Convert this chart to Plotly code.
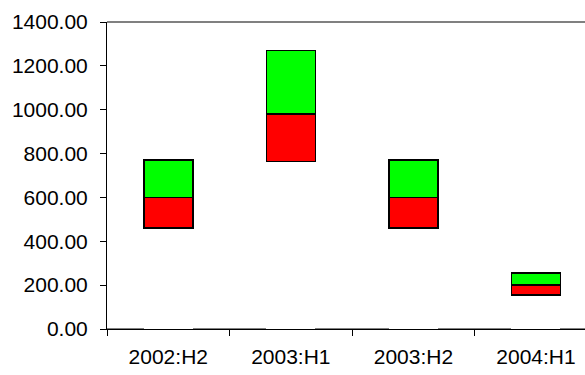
import plotly.graph_objects as go

# Half-year periods and the low / middle / high level of each range
periods = ["2002:H2", "2003:H1", "2003:H2", "2004:H1"]
low = [460, 763, 460, 155]
mid = [600, 980, 600, 200]
high = [772, 1270, 772, 255]

y_ticks = [0, 200, 400, 600, 800, 1000, 1200, 1400]

lower_part = [m - l for l, m in zip(low, mid)]
upper_part = [h - m for m, h in zip(mid, high)]

fig = go.Figure()

# invisible base (white) lifting each range box off the axis
fig.add_trace(go.Bar(
    x=periods, y=low,
    marker=dict(color="white", line=dict(width=0)),
    hoverinfo="skip",
))
# low -> middle segment
fig.add_trace(go.Bar(
    x=periods, y=lower_part,
    marker=dict(color="#ff0000", line=dict(color="black", width=1.6)),
))
# middle -> high segment
fig.add_trace(go.Bar(
    x=periods, y=upper_part,
    marker=dict(color="#00ff00", line=dict(color="black", width=1.6)),
))

font = dict(family="Liberation Sans, Arial, sans-serif", size=21, color="black")

fig.update_layout(
    barmode="stack",
    bargap=0.6,
    showlegend=False,
    width=585, height=375,
    margin=dict(l=107, r=0, t=22, b=46),
    paper_bgcolor="white",
    plot_bgcolor="white",
    font=font,
    xaxis=dict(
        type="category",
        range=[-0.5, 3.40],
        tickson="boundaries",
        ticks="outside", ticklen=6, tickcolor="black", tickwidth=1,
        showline=True, linecolor="black", linewidth=1,
        showgrid=False, zeroline=False,
        ticklabelstandoff=9,
        tickfont=font,
    ),
    yaxis=dict(
        range=[0, 1400],
        tickvals=y_ticks,
        tickformat=".2f",
        ticks="outside", ticklen=6, tickcolor="black", tickwidth=1,
        showline=True, linecolor="black", linewidth=1,
        showgrid=False,
        zeroline=True, zerolinecolor="#808080", zerolinewidth=2,
        ticklabelstandoff=8,
        tickfont=font,
    ),
    shapes=[
        # grey frame line along the top of the plot area
        dict(type="line", xref="paper", yref="paper",
             x0=0, x1=1, y0=1, y1=1,
             line=dict(color="#808080", width=2), layer="below"),
    ],
)

fig.write_html("out.html")
